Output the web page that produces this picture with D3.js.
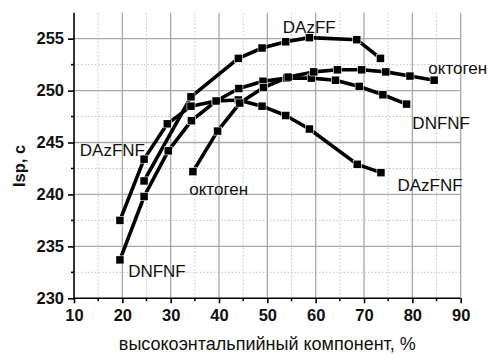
<!DOCTYPE html>
<html>
<head>
<meta charset="utf-8">
<script src="https://cdn.jsdelivr.net/npm/d3@7"></script>
<style>
  html, body { margin: 0; padding: 0; background: #fff; }
  svg { display: block; }
</style>
</head>
<body>
<svg id="chart" width="491" height="354"></svg>
<script>
// ---- data ----
const xTickValues = [10, 20, 30, 40, 50, 60, 70, 80, 90];
const yTickValues = [230, 235, 240, 245, 250, 255];
const xMinorValues = [15, 25, 35, 45, 55, 65, 75, 85];
const yMinorValues = [232.5, 237.5, 242.5, 247.5, 252.5];

const dazffX = [24.5, 34.2, 44.0, 48.9, 53.8, 58.7, 68.5, 73.4];
const dazffY = [241.3, 249.4, 253.1, 254.1, 254.7, 255.1, 254.9, 253.1];

const dazfnfX = [19.5, 24.5, 29.3, 34.2, 39.4, 44.0, 48.9, 53.8, 58.7, 68.6, 73.5];
const dazfnfY = [237.5, 243.4, 246.8, 248.5, 249.0, 249.1, 248.5, 247.6, 246.3, 242.9, 242.1];

const dnfnfX = [19.5, 24.5, 29.5, 34.3, 39.4, 44.1, 49.1, 54.0, 59.1, 64.1, 69.0, 73.9, 78.8];
const dnfnfY = [233.7, 239.8, 244.2, 247.1, 249.0, 250.2, 250.9, 251.2, 251.2, 251.0, 250.4, 249.6, 248.7];

const octX = [34.6, 39.7, 44.3, 49.2, 54.3, 59.6, 64.5, 69.5, 74.5, 79.5, 84.5];
const octY = [242.2, 246.1, 248.8, 250.3, 251.3, 251.8, 252.0, 252.0, 251.8, 251.4, 251.0];

const seriesNames = ["DAzFF", "DAzFNF", "DNFNF", "октоген"];
const xTitle = "высокоэнтальпийный компонент, %";
const yTitle = "Isp, c";

// label anchor points in data units
const labelTexts = ["DAzFF", "DAzFNF", "DAzFNF", "DNFNF", "DNFNF", "октоген", "октоген"];
const labelX = [53.2, 11.2, 76.9, 21.2, 80.0, 33.85, 83.3];
const labelY = [255.55, 243.7, 240.3, 232.05, 246.3, 239.95, 251.55];

// ---- drawing ----
const svg = d3.select("#chart");
const x = d3.scaleLinear().domain([10, 90]).range([74, 460.7]);
const y = d3.scaleLinear().domain([230, 257.5]).range([298.3, 12.7]);

const font = "'Liberation Sans', Arial, sans-serif";

// grid: minor dotted
const grid = svg.append("g");
grid.selectAll("line.vxm").data(xMinorValues).join("line")
  .attr("x1", d => x(d)).attr("x2", d => x(d))
  .attr("y1", y(230)).attr("y2", y(257.5))
  .attr("stroke", "#c4c4c4").attr("stroke-width", 1).attr("stroke-dasharray", "1.5,2");
grid.selectAll("line.hym").data(yMinorValues).join("line")
  .attr("y1", d => y(d)).attr("y2", d => y(d))
  .attr("x1", x(10)).attr("x2", x(90))
  .attr("stroke", "#c4c4c4").attr("stroke-width", 1).attr("stroke-dasharray", "1.5,2");
// grid: major solid
grid.selectAll("line.vx").data(xTickValues.slice(1)).join("line")
  .attr("x1", d => x(d)).attr("x2", d => x(d))
  .attr("y1", y(230)).attr("y2", y(257.5))
  .attr("stroke", "#a8a8a8").attr("stroke-width", 1.3);
grid.selectAll("line.hy").data(yTickValues.slice(1)).join("line")
  .attr("y1", d => y(d)).attr("y2", d => y(d))
  .attr("x1", x(10)).attr("x2", x(90))
  .attr("stroke", "#a8a8a8").attr("stroke-width", 1.3);

// axes
const xAxis = d3.axisBottom(x).tickValues(xTickValues).tickSize(5).tickPadding(6).tickFormat(d3.format("d"));
const yAxis = d3.axisLeft(y).tickValues(yTickValues).tickSize(6).tickPadding(4).tickFormat(d3.format("d"));

const gx = svg.append("g").attr("transform", `translate(0,${y(230)})`).call(xAxis);
const gy = svg.append("g").attr("transform", `translate(${x(10)},0)`).call(yAxis);

// minor ticks
svg.append("g").selectAll("line").data(xMinorValues).join("line")
  .attr("x1", d => x(d)).attr("x2", d => x(d))
  .attr("y1", y(230)).attr("y2", y(230) + 3)
  .attr("stroke", "#000").attr("stroke-width", 1.5);
svg.append("g").selectAll("line").data(yMinorValues).join("line")
  .attr("y1", d => y(d)).attr("y2", d => y(d))
  .attr("x1", x(10)).attr("x2", x(10) - 3)
  .attr("stroke", "#000").attr("stroke-width", 1.5);

[gx, gy].forEach(g => {
  g.select(".domain").attr("stroke", "#000").attr("stroke-width", 1.6);
  g.selectAll(".tick line").attr("stroke", "#000").attr("stroke-width", 1.6);
  g.selectAll(".tick text")
    .attr("fill", "#111")
    .style("font-family", font)
    .style("font-size", "16.5px")
    .style("font-weight", "bold");
});
gy.select(".domain").attr("d", `M-0,${y(230)}V${y(257.5)}`);
gx.select(".domain").attr("d", `M${x(10)},0H${x(90)}`);

// titles
svg.append("text")
  .attr("x", (x(10) + x(90)) / 2).attr("y", 350)
  .attr("text-anchor", "middle")
  .style("font-family", font).style("font-size", "18px")
  .attr("fill", "#111")
  .text(xTitle);
svg.append("text")
  .attr("transform", `translate(25,166) rotate(-90)`)
  .attr("text-anchor", "middle")
  .style("font-family", font).style("font-size", "16.5px").style("font-weight", "bold")
  .attr("fill", "#111")
  .text(yTitle);

// series
const allSeries = [
  { name: seriesNames[0], xs: dazffX, ys: dazffY },
  { name: seriesNames[1], xs: dazfnfX, ys: dazfnfY },
  { name: seriesNames[2], xs: dnfnfX, ys: dnfnfY },
  { name: seriesNames[3], xs: octX, ys: octY }
];
const line = d3.line().x(d => x(d[0])).y(d => y(d[1]));
const plot = svg.append("g");
allSeries.forEach(s => {
  const pts = s.xs.map((v, i) => [v, s.ys[i]]);
  plot.append("path").datum(pts)
    .attr("d", line)
    .attr("fill", "none").attr("stroke", "#000").attr("stroke-width", 3.6)
    .attr("stroke-linejoin", "round");
});
const ms = 7.5;
allSeries.forEach(s => {
  const pts = s.xs.map((v, i) => [v, s.ys[i]]);
  plot.append("g").selectAll("rect").data(pts).join("rect")
    .attr("x", d => x(d[0]) - ms / 2).attr("y", d => y(d[1]) - ms / 2)
    .attr("width", ms).attr("height", ms)
    .attr("fill", "#000").attr("stroke", "#fff").attr("stroke-width", 1.2)
    .attr("paint-order", "stroke");
});

// series labels
svg.append("g").selectAll("text").data(labelTexts).join("text")
  .attr("x", (d, i) => x(labelX[i])).attr("y", (d, i) => y(labelY[i]))
  .style("font-family", font).style("font-size", "17px")
  .attr("fill", "#111")
  .text(d => d);
</script>
</body>
</html>
